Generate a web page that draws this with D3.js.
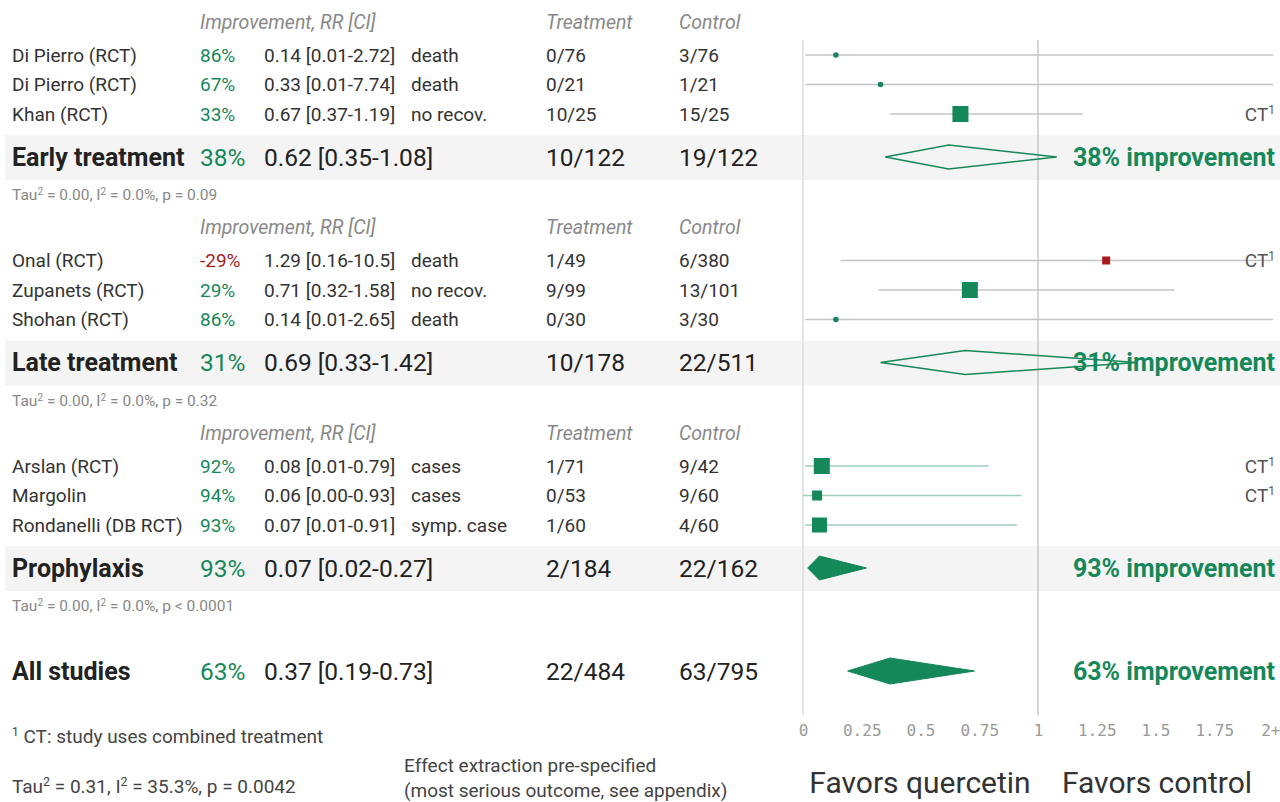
<!DOCTYPE html>
<html><head><meta charset="utf-8">
<script src="https://cdn.jsdelivr.net/npm/d3@7"></script>
<style>
body{margin:0;background:#fff;}
svg{display:block;font-family:Roboto,"Noto Sans",sans-serif;}
</style></head>
<body><svg id="c" width="1280" height="802"></svg>
<script>
// ---- data ----
const groupNames = ["Early treatment","Late treatment","Prophylaxis"];
const studyNames = ["Di Pierro (RCT)","Di Pierro (RCT)","Khan (RCT)","Onal (RCT)","Zupanets (RCT)","Shohan (RCT)","Arslan (RCT)","Margolin","Rondanelli (DB RCT)"];
const studyGroup = [0,0,0,1,1,1,2,2,2];
const studyImp = ["86%","67%","33%","-29%","29%","86%","92%","94%","93%"];
const studyRR = [0.14,0.33,0.67,1.29,0.71,0.14,0.08,0.06,0.07];
const studyLo = [0.01,0.01,0.37,0.16,0.32,0.01,0.01,0.00,0.01];
const studyHi = [2.72,7.74,1.19,10.5,1.58,2.65,0.79,0.93,0.91];
const studyCI = ["0.14 [0.01-2.72]","0.33 [0.01-7.74]","0.67 [0.37-1.19]","1.29 [0.16-10.5]","0.71 [0.32-1.58]","0.14 [0.01-2.65]","0.08 [0.01-0.79]","0.06 [0.00-0.93]","0.07 [0.01-0.91]"];
const studyOutcome = ["death","death","no recov.","death","no recov.","death","cases","cases","symp. case"];
const studyTreat = ["0/76","0/21","10/25","1/49","9/99","0/30","1/71","0/53","1/60"];
const studyCtrl = ["3/76","1/21","15/25","6/380","13/101","3/30","9/42","9/60","4/60"];
const studyCT = [false,false,true,true,false,false,true,true,false];
const studyWeight = [0,0,16,8,16,0,16,10,15];   // 0 = zero-event study (dot marker)

const groupImp = ["38%","31%","93%"];
const groupRR = [0.62,0.69,0.07];
const groupLo = [0.35,0.33,0.02];
const groupHi = [1.08,1.42,0.27];
const groupCI = ["0.62 [0.35-1.08]","0.69 [0.33-1.42]","0.07 [0.02-0.27]"];
const groupTreat = ["10/122","10/178","2/184"];
const groupCtrl = ["19/122","22/511","22/162"];
const groupTau = ["0.00","0.00","0.00"];
const groupI2 = ["0.0%","0.0%","0.0%"];
const groupP = ["= 0.09","= 0.32","< 0.0001"];
const groupFilled = [false,false,true];

const allImp = "63%", allRR = 0.37, allLo = 0.19, allHi = 0.73, allCI = "0.37 [0.19-0.73]";
const allTreat = "22/484", allCtrl = "63/795";
const allTau = "0.31", allI2 = "35.3%", allP = "0.0042";

const tickValues = [0,0.25,0.5,0.75,1,1.25,1.5,1.75,2];
const tickLabels = ["0","0.25","0.5","0.75","1","1.25","1.5","1.75","2+"];
const headers = ["Improvement, RR [CI]","Treatment","Control"];

// ---- drawing ----
const GREEN = "#15885a", RED = "#a61b1b", DARK = "#333", GREY = "#888";
const FS = 19, FSUM = 24.5, FBOLD = 25;
const svg = d3.select("#c");
const x = d3.scaleLinear().domain([0,2]).range([803,1273]).clamp(true);
const col = {name:12, imp:200, ci:264, out:411, tr:546, ct:679};

const groupTop = g => 22 + g*205.5;
const studyOffsets = [33, 62.5, 92];

// bands
groupNames.forEach((n,g)=>{
  svg.append("rect").attr("x",5).attr("y",groupTop(g)+113).attr("width",1275).attr("height",45).attr("fill","#f4f4f4");
});

// vertical lines
svg.append("line").attr("x1",x(0)).attr("x2",x(0)).attr("y1",40).attr("y2",715).attr("stroke","#ddd").attr("stroke-width",1.5);
svg.append("line").attr("x1",x(1)).attr("x2",x(1)).attr("y1",40).attr("y2",715).attr("stroke","#bbb").attr("stroke-width",1.2);

function txt(xp,y,s,opt={}){
  return svg.append("text").attr("x",xp).attr("y",y).attr("dy","0.35em")
    .attr("font-size",opt.size||FS).attr("fill",opt.fill||DARK)
    .attr("font-weight",opt.weight||"normal").attr("font-style",opt.style||"normal")
    .attr("text-anchor",opt.anchor||"start").text(s);
}
function tauText(xp,y,tau,i2,p,size,fill){
  const t = svg.append("text").attr("x",xp).attr("y",y).attr("dy","0.35em").attr("font-size",size).attr("fill",fill);
  t.append("tspan").text("Tau");
  t.append("tspan").attr("baseline-shift","super").attr("font-size",size*0.65).text("2");
  t.append("tspan").text(" = "+tau+", I");
  t.append("tspan").attr("baseline-shift","super").attr("font-size",size*0.65).text("2");
  t.append("tspan").text(" = "+i2+", p "+p);
}
function diamond(rr,lo,hi,y,h,filled){
  const pts = [[x(lo),y],[x(rr),y-h],[x(hi),y],[x(rr),y+h]];
  svg.append("polygon").attr("points",pts.map(p=>p.join(",")).join(" "))
    .attr("fill",filled?GREEN:"none").attr("stroke",GREEN).attr("stroke-width",filled?1:1.5);
}

groupNames.forEach((gn,g)=>{
  const top = groupTop(g);
  txt(col.imp,top,headers[0],{style:"italic",fill:GREY,size:19.5});
  txt(col.tr,top,headers[1],{style:"italic",fill:GREY,size:19.5});
  txt(col.ct,top,headers[2],{style:"italic",fill:GREY,size:19.5});
  const idx = studyGroup.map((sg,i)=>sg===g?i:-1).filter(i=>i>=0);
  idx.forEach((i,k)=>{
    const y = top + studyOffsets[k];
    const better = studyRR[i] < 1;
    txt(col.name,y,studyNames[i]);
    txt(col.imp,y,studyImp[i],{fill:better?GREEN:RED});
    txt(col.ci,y,studyCI[i]);
    txt(col.out,y,studyOutcome[i]);
    txt(col.tr,y,studyTreat[i]);
    txt(col.ct,y,studyCtrl[i]);
    // CI line
    svg.append("line").attr("x1",x(studyLo[i])).attr("x2",x(studyHi[i])).attr("y1",y).attr("y2",y)
      .attr("stroke", g===2 ? "#9fcfb8" : "#c4c4c4").attr("stroke-width",1.5);
    const c = better?GREEN:RED;
    if(studyWeight[i]===0){
      svg.append("circle").attr("cx",x(studyRR[i])).attr("cy",y).attr("r",2.8).attr("fill",c);
    } else {
      const s = studyWeight[i];
      svg.append("rect").attr("x",x(studyRR[i])-s/2).attr("y",y-s/2).attr("width",s).attr("height",s).attr("fill",c);
    }
    if(studyCT[i]){
      const t = svg.append("text").attr("x",1275).attr("y",y).attr("dy","0.35em").attr("text-anchor","end")
        .attr("font-size",FS).attr("fill","#555");
      t.append("tspan").text("CT");
      t.append("tspan").attr("baseline-shift","super").attr("font-size",12).text("1");
    }
  });
  const ys = top + 135;
  txt(col.name,ys,gn,{size:FBOLD,weight:"bold",fill:"#222"});
  txt(col.imp,ys,groupImp[g],{size:FSUM,fill:GREEN});
  txt(col.ci,ys,groupCI[g],{size:FSUM,fill:"#222"});
  txt(col.tr,ys,groupTreat[g],{size:FSUM,fill:"#222"});
  txt(col.ct,ys,groupCtrl[g],{size:FSUM,fill:"#222"});
  diamond(groupRR[g],groupLo[g],groupHi[g],ys,12,groupFilled[g]);
  txt(1275,ys,groupImp[g]+" improvement",{size:FBOLD,weight:"bold",fill:GREEN,anchor:"end"});
  tauText(col.name,top+173,groupTau[g],groupI2[g],groupP[g],15.5,GREY);
});

// All studies
const ya = 671;
txt(col.name,ya,"All studies",{size:FBOLD,weight:"bold",fill:"#222"});
txt(col.imp,ya,allImp,{size:FSUM,fill:GREEN});
txt(col.ci,ya,allCI,{size:FSUM,fill:"#222"});
txt(col.tr,ya,allTreat,{size:FSUM,fill:"#222"});
txt(col.ct,ya,allCtrl,{size:FSUM,fill:"#222"});
diamond(allRR,allLo,allHi,ya,13,true);
txt(1275,ya,allImp+" improvement",{size:FBOLD,weight:"bold",fill:GREEN,anchor:"end"});

// axis
const axis = d3.axisBottom(x).tickValues(tickValues).tickFormat((d,i)=>tickLabels[i]).tickSize(0);
const ag = svg.append("g").attr("transform","translate(0,722)").call(axis);
ag.select(".domain").remove();
ag.selectAll("text").attr("font-family","'DejaVu Sans Mono',monospace").attr("font-size",16).attr("fill","#999");
ag.selectAll(".tick").filter((d,i)=>i===tickValues.length-1).select("text").attr("text-anchor","end").attr("dx","7");

// footnotes
const fn = svg.append("text").attr("x",12).attr("y",736).attr("dy","0.35em").attr("font-size",FS).attr("fill","#444");
fn.append("tspan").attr("baseline-shift","super").attr("font-size",12).text("1");
fn.append("tspan").text(" CT: study uses combined treatment");
tauText(12,786,allTau,allI2,"= "+allP,FS,"#444");
txt(404,765,"Effect extraction pre-specified",{fill:"#444"});
txt(404,790,"(most serious outcome, see appendix)",{fill:"#444"});
txt(920,782,"Favors quercetin",{size:30,fill:"#333",anchor:"middle"});
txt(1157,782,"Favors control",{size:30,fill:"#333",anchor:"middle"});
</script></body></html>
